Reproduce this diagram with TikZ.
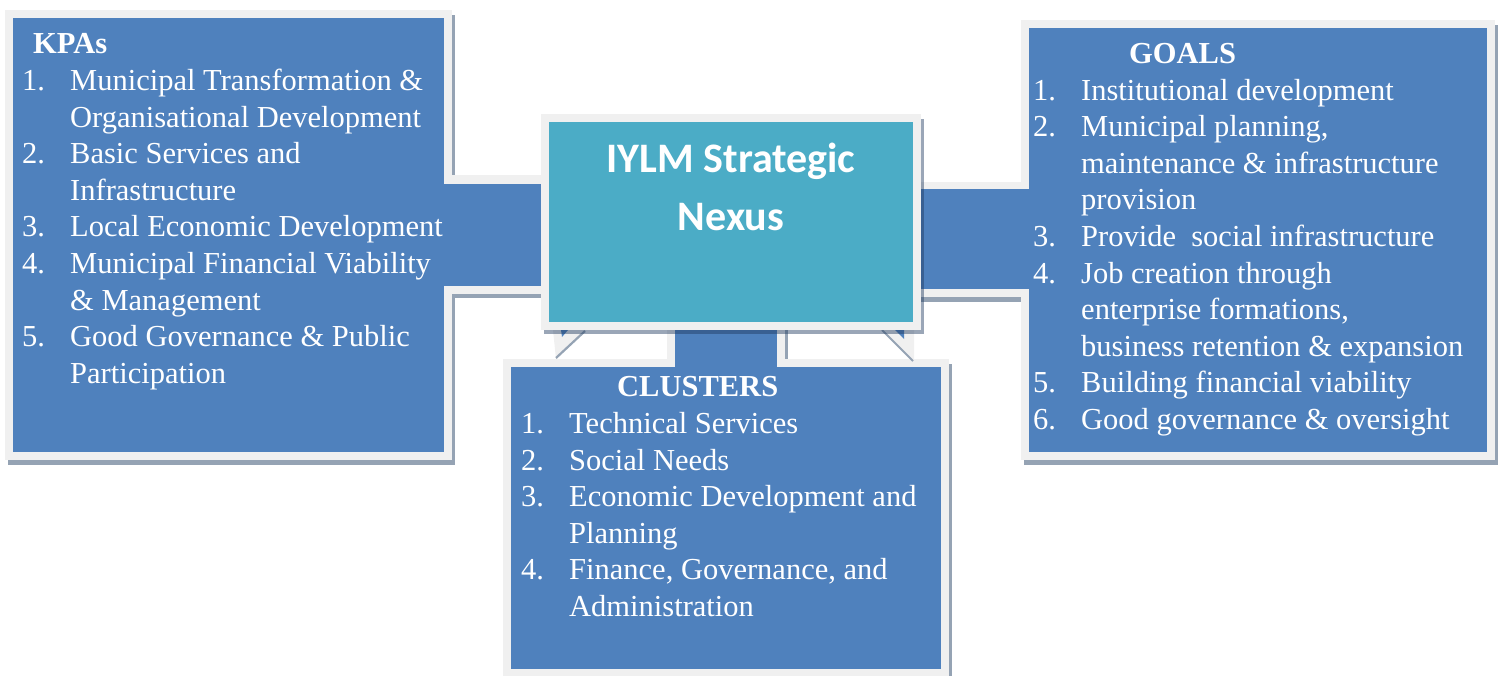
\documentclass[tikz,border=0pt]{standalone}
\usepackage{fontspec}
\setmainfont{Liberation Serif}
\newfontfamily\titlefont{Carlito}
\definecolor{boxblue}{HTML}{4F81BD}
\definecolor{boxteal}{HTML}{4BACC6}
\definecolor{rim}{HTML}{F0F0F0}
\definecolor{shadegray}{HTML}{95A3B4}
\definecolor{shade}{HTML}{1F3A5F}
\tikzset{
  shadowfill/.style={fill=shadegray},
  overshadow/.style={fill=shade,fill opacity=0.45},
  rimfill/.style={fill=rim},
  bluefill/.style={fill=boxblue},
  txt/.style={inner sep=0pt,anchor=base west,text=white,font=\fontsize{30.5}{36.6}\selectfont},
  hdr/.style={inner sep=0pt,anchor=base west,text=white,font=\fontsize{30.5}{36.6}\selectfont\bfseries},
  ttl/.style={inner sep=0pt,anchor=base,text=white,font=\titlefont\fontsize{42}{58}\selectfont\bfseries},
}
\begin{document}
\begin{tikzpicture}[x=1pt,y=-1pt]
\useasboundingbox (0,0) rectangle (1499,675);
% ---- shadows (under layer)
\fill[shadowfill] (8,15) rectangle (455,465);
\fill[shadowfill] (1024,25) rectangle (1498,465);
\fill[shadowfill] (506,364) rectangle (952,680);
\fill[shadowfill] (446,179) rectangle (552,298);
\fill[shadowfill] (916,186) rectangle (1031,302);
\fill[shadowfill] (670,327) rectangle (788,364);
% ---- box rims
\fill[rimfill] (5,10) rectangle (452,460);
\fill[rimfill] (1021,20) rectangle (1495,460);
\fill[rimfill] (503,359) rectangle (949,677);
% ---- box interiors
\fill[bluefill] (13,18) rectangle (444,452);
\fill[bluefill] (1029,28) rectangle (1487,452);
\fill[bluefill] (511,367) rectangle (941,669);
% ---- connecting bands
\fill[rimfill] (444,175) rectangle (549,294);
\fill[bluefill] (443,184) rectangle (549,286);
\fill[rimfill] (913,182) rectangle (1028.5,297);
\fill[bluefill] (913,189) rectangle (1030,289);
\fill[rimfill] (667,322) rectangle (785,359);
\fill[bluefill] (675,322) rectangle (777,368);
% ---- callout pointer remnants
\fill[rimfill] (553,330) -- (586,330) -- (556,359) -- cycle;
\draw[shadegray,line width=2.2pt] (585,331) -- (556,358);
\fill[bluefill] (561,330) -- (568,330) -- (562,337) -- cycle;
\fill[rimfill] (881,330) -- (914,330) -- (914,361) -- cycle;
\draw[shadegray,line width=2pt] (882,330) -- (913,361);
\fill[bluefill] (895,330) -- (904,330) -- (904,339) -- cycle;
% ---- center box
\fill[overshadow] (544,119) rectangle (924,334);
\fill[rimfill] (541,114) rectangle (921,330);
\fill[fill=boxteal] (549,122) rectangle (913,322);
\node[ttl] (t1) at (731,172) {IYLM Strategic};
\node[ttl] (t2) at (731,230) {Nexus};
% ---- KPAs
\node[hdr] (kh) at (33,53.3) {KPAs};
\node[txt] (kn1) at (22,90.5) {1.};   \node[txt] (k1) at (70,90.5) {Municipal Transformation \&};
\node[txt] (k1b) at (70,127.1) {Organisational Development};
\node[txt] (kn2) at (22,163.7) {2.};  \node[txt] (k2) at (70,163.7) {Basic Services and};
\node[txt] (k2b) at (70,200.3) {Infrastructure};
\node[txt] (kn3) at (22,236.9) {3.};  \node[txt] (k3) at (70,236.9) {Local Economic Development};
\node[txt] (kn4) at (22,273.5) {4.};  \node[txt] (k4) at (70,273.5) {Municipal Financial Viability};
\node[txt] (k4b) at (70,310.1) {\& Management};
\node[txt] (kn5) at (22,346.7) {5.};  \node[txt] (k5) at (70,346.7) {Good Governance \& Public};
\node[txt] (k5b) at (70,383.3) {Participation};
% ---- GOALS
\node[hdr] (gh) at (1129,63.3) {GOALS};
\node[txt] (gn1) at (1033,100) {1.};   \node[txt] (g1) at (1081,100) {Institutional development};
\node[txt] (gn2) at (1033,136.6) {2.}; \node[txt] (g2) at (1081,136.6) {Municipal planning,};
\node[txt] (g2b) at (1081,173.2) {maintenance \& infrastructure};
\node[txt] (g2c) at (1081,209.8) {provision};
\node[txt] (gn3) at (1033,246.4) {3.}; \node[txt] (g3) at (1081,246.4) {Provide~ social infrastructure};
\node[txt] (gn4) at (1033,283) {4.};   \node[txt] (g4) at (1081,283) {Job creation through};
\node[txt] (g4b) at (1081,319.6) {enterprise formations,};
\node[txt] (g4c) at (1081,356.2) {business retention \& expansion};
\node[txt] (gn5) at (1033,392.8) {5.}; \node[txt] (g5) at (1081,392.8) {Building financial viability};
\node[txt] (gn6) at (1033,429.4) {6.}; \node[txt] (g6) at (1081,429.4) {Good governance \& oversight};
% ---- CLUSTERS
\node[hdr] (ch) at (617,396) {CLUSTERS};
\node[txt] (cn1) at (521,433.5) {1.}; \node[txt] (c1) at (569,433.5) {Technical Services};
\node[txt] (cn2) at (521,470.1) {2.}; \node[txt] (c2) at (569,470.1) {Social Needs};
\node[txt] (cn3) at (521,506.7) {3.}; \node[txt] (c3) at (569,506.7) {Economic Development and};
\node[txt] (c3b) at (569,543.3) {Planning};
\node[txt] (cn4) at (521,579.9) {4.}; \node[txt] (c4) at (569,579.9) {Finance, Governance, and};
\node[txt] (c4b) at (569,616.5) {Administration};
\end{tikzpicture}
\end{document}
